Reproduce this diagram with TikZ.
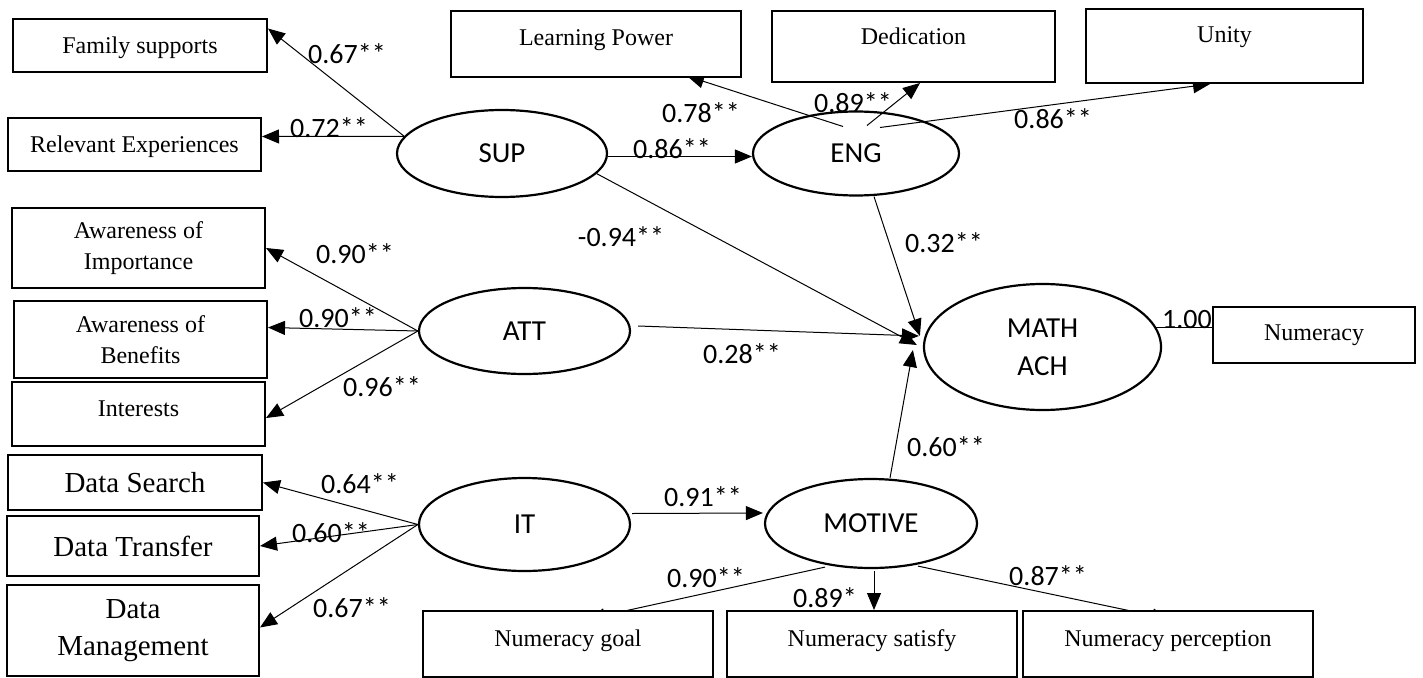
\documentclass[tikz,border=0pt]{standalone}
\usepackage{fontspec}
\setmainfont{Liberation Serif}
\newfontfamily\carl{Carlito}
\usetikzlibrary{arrows.meta,calc,shapes.geometric}
\pgfdeclarelayer{bg}
\pgfsetlayers{bg,main}
\begin{document}
\begin{tikzpicture}[x=1pt,y=-1pt,
  box/.style={draw, line width=2pt, fill=white, rectangle, inner sep=0pt, font=\fontsize{24}{31}\selectfont},
  bigbox/.style={box, font=\fontsize{29}{37}\selectfont},
  lat/.style={draw, ellipse, line width=2.2pt, inner sep=0pt, font=\carl\fontsize{29}{38}\selectfont, align=center},
  conn/.style={line width=1pt, -{Triangle[length=17pt,width=14pt]}},
  plainline/.style={line width=1pt},
  coef/.style={inner sep=0pt, font=\carl\fontsize{28}{34}\selectfont}
]
\useasboundingbox (0,0) rectangle (1423,677);

% observed boxes
\node[box, anchor=north, minimum width=254pt, text height=35pt, text depth=18pt] (fam) at (140,18) {Family supports};
\node[box, anchor=north, minimum width=253pt, text height=34pt, text depth=19pt] (rel) at (134.5,117) {Relevant Experiences};
\node[box, anchor=north, minimum width=290pt, text height=35pt, text depth=31pt] (lp) at (596,10) {Learning Power};
\node[box, anchor=north, minimum width=283pt, text height=34pt, text depth=37pt] (ded) at (913.5,10) {Dedication};
\node[box, anchor=north, minimum width=277pt, text height=34pt, text depth=40pt] (uni) at (1224.5,8) {Unity};
\node[box, align=center, minimum width=253pt, minimum height=80pt] (aoi) at (138.5,248) {Awareness of\\Importance};
\node[box, align=center, minimum width=253pt, minimum height=77pt] (aob) at (140.5,339.5) {Awareness of\\Benefits};
\node[box, anchor=north, minimum width=253pt, text height=34pt, text depth=30pt] (int) at (138.5,381) {Interests};
\node[bigbox, minimum width=254pt, minimum height=55pt] (ds) at (135,482.5) {Data Search};
\node[bigbox, minimum width=252pt, minimum height=60pt] (dt) at (133,546) {Data Transfer};
\node[bigbox, align=center, minimum width=252pt, minimum height=91pt] (dm) at (133,630.5) {Data\\Management};
\node[box, anchor=north, minimum width=290pt, text height=35pt, text depth=31pt] (ng) at (568,610) {Numeracy goal};
\node[box, anchor=north, minimum width=290pt, text height=35pt, text depth=31pt] (ns) at (872,610) {Numeracy satisfy};
\node[box, anchor=north, minimum width=290pt, text height=35pt, text depth=31pt] (np) at (1168,610) {Numeracy perception};
\node[box, minimum width=202pt, minimum height=56pt] (num) at (1314,335) {Numeracy};

% latent variables
\node[lat, minimum width=210pt, minimum height=87pt] (sup) at (502,153.5) {SUP};
\node[lat, minimum width=206pt, minimum height=84pt] (eng) at (856,153.5) {ENG};
\node[lat, minimum width=211pt, minimum height=86pt] (att) at (524.5,331) {ATT};
\node[lat, minimum width=237pt, minimum height=126pt] (math) at (1042.5,347) {MATH\\ACH};
\node[lat, minimum width=211pt, minimum height=93pt] (it) at (524.5,524.5) {IT};
\node[lat, minimum width=212pt, minimum height=89pt] (mot) at (871,523.5) {MOTIVE};

\begin{pgfonlayer}{bg}
% connectors
\draw[conn] (sup.170) -- ($(fam.east)+(0,-17)$);
\draw[conn] (sup.170) -- ($(rel.east)+(0,-8)$);
\draw[conn] ($(sup.east)+(0,3)$) -- ($(eng.west)+(0,3)$);
\draw[conn] ($(eng.center)+(-13,-27)$) -- ($(lp.south east)+(-55,-2)$);
\draw[conn] ($(eng.center)+(11,-28)$) -- ($(ded.south)+(6.5,0)$);
\draw[conn] ($(eng.center)+(24,-26)$) -- ($(uni.south)+(-14.5,0)$);
\draw[conn] ($(eng.south)+(18,0)$) -- ($(math.west)+(-3,-11)$);
\draw[conn] (sup.-12) -- ($(math.west)+(-6,-2)$);
\draw[conn] ($(att.east)+(7,-5)$) -- ($(math.west)+(-4,-11)$);
\draw[conn] ($(mot.north)+(19,0)$) -- ($(math.west)+(-10,3)$);
\draw[conn] ($(it.east)+(1,-11)$) -- ($(mot.west)+(-1,-10.5)$);
\draw[conn] ($(mot.south)+(-46,-2)$) -- ($(ng.north)+(20,9)$);
\draw[conn] ($(mot.south)+(3,2)$) -- ($(ns.north)+(2,0)$);
\draw[conn] ($(mot.south)+(47,-3)$) -- ($(np.north)+(1,9)$);
\draw[plainline] ($(math.center)+(113,-20)$) -- ($(num.west)+(0,-8)$);
\draw[conn] (att.west) -- (aoi.east);
\draw[conn] (att.west) -- ($(aob.east)+(0,-12)$);
\draw[conn] (att.west) -- ($(int.east)+(0,4)$);
\draw[conn] (it.west) -- (ds.east);
\draw[conn] (it.west) -- (dt.east);
\draw[conn] (it.west) -- ($(dm.east)+(0,-3)$);

% coefficients
\node[coef] (c1) at (347,54) {0.67**};
\node[coef] (c2) at (329,128) {0.72**};
\node[coef] (c3) at (672,149) {0.86**};
\node[coef] (c4) at (701,113) {0.78**};
\node[coef] (c5) at (853,103) {0.89**};
\node[coef] (c6) at (1053,119) {0.86**};
\node[coef] (c7) at (621,237) {-0.94**};
\node[coef] (c8) at (944,243) {0.32**};
\node[coef] (c9) at (355,254) {0.90**};
\node[coef] (c10) at (338,318) {0.90**};
\node[coef] (c11) at (382,387) {0.96**};
\node[coef] (c12) at (742,354) {0.28**};
\node[coef, anchor=west] (c13) at (1162,319) {1.00**};
\node[coef] (c14) at (946,447) {0.60**};
\node[coef] (c15) at (360,484) {0.64**};
\node[coef] (c16) at (331,533) {0.60**};
\node[coef] (c17) at (352,608) {0.67**};
\node[coef] (c18) at (703,497) {0.91**};
\node[coef] (c19) at (706,578) {0.90**};
\node[coef] (c20) at (825,598) {0.89*};
\node[coef] (c21) at (1048,576) {0.87**};
\end{pgfonlayer}
\end{tikzpicture}
\end{document}
